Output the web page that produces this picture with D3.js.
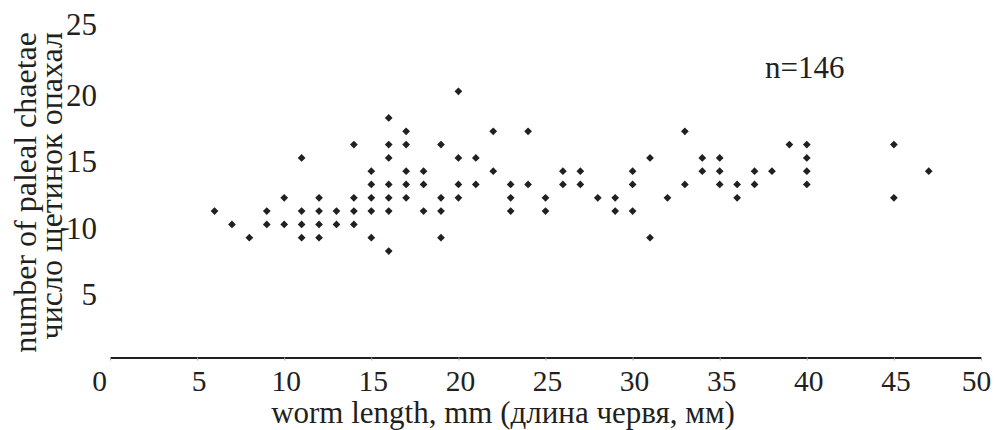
<!DOCTYPE html>
<html>
<head>
<meta charset="utf-8">
<script src="https://cdn.jsdelivr.net/npm/d3@7"></script>
<style>
  body { margin: 0; background: #fff; }
  text { font-family: "Liberation Serif", "Times New Roman", serif; fill: #231f20; }
</style>
</head>
<body>
<div id="chart"></div>
<script>
// worm length (mm) and the chaetae counts seen at that length
var lengthsMm = [6, 7, 8, 9, 10, 11, 12, 13, 14, 15, 16, 17, 18, 19, 20, 21, 22, 23, 24, 25, 26, 27, 28, 29, 30, 31, 32, 33, 34, 35, 36, 37, 38, 39, 40, 45, 47];
var chaetaeCounts = [
    [11], [10], [9], [11, 10], [12, 10], [15, 11, 10, 9], [12, 11, 10, 9], [11, 10],
    [16, 12, 11, 10], [14, 13, 12, 11, 9], [18, 16, 15, 13, 12, 11, 8], [17, 16, 14, 13, 12],
    [14, 13, 11], [16, 12, 11, 9], [20, 15, 13, 12], [15, 13], [17, 14], [13, 12, 11],
    [17, 13], [12, 11], [14, 13], [14, 13], [12], [12, 11], [14, 13, 11], [15, 9], [12],
    [17, 13], [15, 14], [15, 14, 13], [13, 12], [14, 13], [14], [16], [16, 15, 14, 13],
    [16, 12], [14]
];
var xTicks = [0, 5, 10, 15, 20, 25, 30, 35, 40, 45, 50];
var yTicks = [5, 10, 15, 20, 25];
var nLabel = "n=146";
var xTitle = "worm length, mm (длина червя, мм)";
var yTitle = ["number of paleal chaetae", "число щетинок опахал"];

var points = [];
lengthsMm.forEach(function(len, i) {
    chaetaeCounts[i].forEach(function(c) { points.push({x: len, y: c}); });
});

var width = 996, height = 430;
var ink = "#231f20";

var svg = d3.select("#chart")
    .append("svg")
    .attr("width", width)
    .attr("height", height);

var x = d3.scaleLinear().domain([0, 50]).range([110, 981]);
var y = d3.scaleLinear().domain([0, 25]).range([357.5, 24.8]);

// x axis: thick line, tiny ticks
var xAxis = svg.append("g")
    .attr("transform", "translate(0," + y(0) + ")")
    .call(d3.axisBottom(x).tickValues(xTicks).tickSize(3).tickSizeOuter(0));
xAxis.select(".domain").attr("stroke", ink).attr("stroke-width", 1.8);
xAxis.selectAll(".tick line").attr("stroke", "#aaa").attr("stroke-width", 1);
xAxis.selectAll(".tick text")
    .attr("y", 33.5)
    .attr("dy", 0)
    .attr("x", function(d) { return d === 0 ? -11 : (d === 50 ? -5 : 1.5); })
    .style("font-size", "29.5px")
    .style("font-family", "Liberation Serif, serif")
    .attr("fill", ink);

// y axis: labels only
var yAxis = svg.append("g")
    .attr("transform", "translate(97,0)")
    .call(d3.axisLeft(y).tickValues(yTicks).tickSize(0).tickPadding(0));
yAxis.select(".domain").remove();
yAxis.selectAll(".tick text")
    .attr("dy", function(d) { return d === 25 ? "0.3em" : "0.45em"; })
    .style("font-size", "31px")
    .style("font-family", "Liberation Serif, serif")
    .attr("fill", ink);

// points
svg.append("g")
    .selectAll("path")
    .data(points)
    .enter()
    .append("path")
    .attr("d", d3.symbol().type(d3.symbolSquare).size(30))
    .attr("transform", function(d) { return "translate(" + x(d.x) + "," + y(d.y) + ") rotate(45)"; })
    .attr("fill", ink);

// titles
svg.append("text")
    .attr("x", 503)
    .attr("y", 423)
    .attr("text-anchor", "middle")
    .style("font-size", "31px")
    .text(xTitle);

svg.selectAll("text.ytitle")
    .data(yTitle)
    .enter()
    .append("text")
    .attr("class", "ytitle")
    .attr("transform", function(d, i) { return "translate(" + (i === 0 ? 36 : 62) + ",32) rotate(-90)"; })
    .attr("text-anchor", "end")
    .style("font-size", "32px")
    .text(function(d) { return d; });

svg.append("text")
    .attr("x", 765)
    .attr("y", 77.5)
    .style("font-size", "31px")
    .text(nLabel);
</script>
</body>
</html>
